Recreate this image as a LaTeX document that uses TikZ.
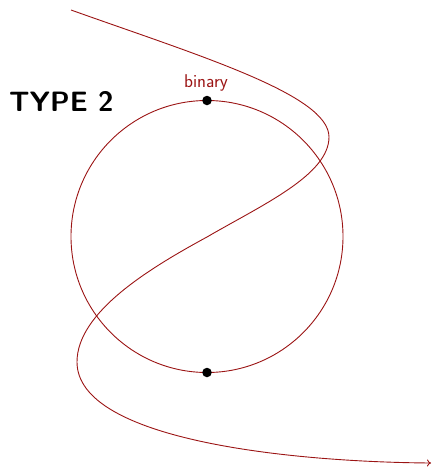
\documentclass[tikz,border=0pt]{standalone}
\usepackage{fontspec}
\usetikzlibrary{arrows.meta}
\definecolor{darkred}{RGB}{155,20,20}
\tikzset{
  orbit/.style={draw=darkred, line width=0.9pt},
  dot/.style={circle, fill=black, inner sep=0pt, minimum size=9.5pt},
  lbl/.style={text=darkred, font=\sffamily\fontsize{18.5}{20}\selectfont},
  title/.style={font=\sffamily\bfseries\fontsize{28}{32}\selectfont, text=black}
}
\begin{document}
\begin{tikzpicture}[x=1pt,y=-1pt]
\useasboundingbox (0,0) rectangle (432,469);
\node[orbit, circle, minimum size=272pt, inner sep=0pt] (circ) at (207,236.5) {};
\draw[orbit, -{To[length=4pt,width=7pt]}] (71,10) .. controls (200,56) and (329,95) .. (329,137)
  .. controls (329,175) and (262,205) .. (207,237)
  .. controls (150,268) and (77,312) .. (77,362)
  .. controls (77,440) and (290,462) .. (431,463);
\node[dot] (top) at (207,100.5) {};
\node[dot] (bot) at (207,372.5) {};
\node[lbl, anchor=base] (bin) at (206,87) {binary};
\node[title, anchor=base west, inner sep=0pt] (type) at (9,111) {TYPE 2};
\end{tikzpicture}
\end{document}
